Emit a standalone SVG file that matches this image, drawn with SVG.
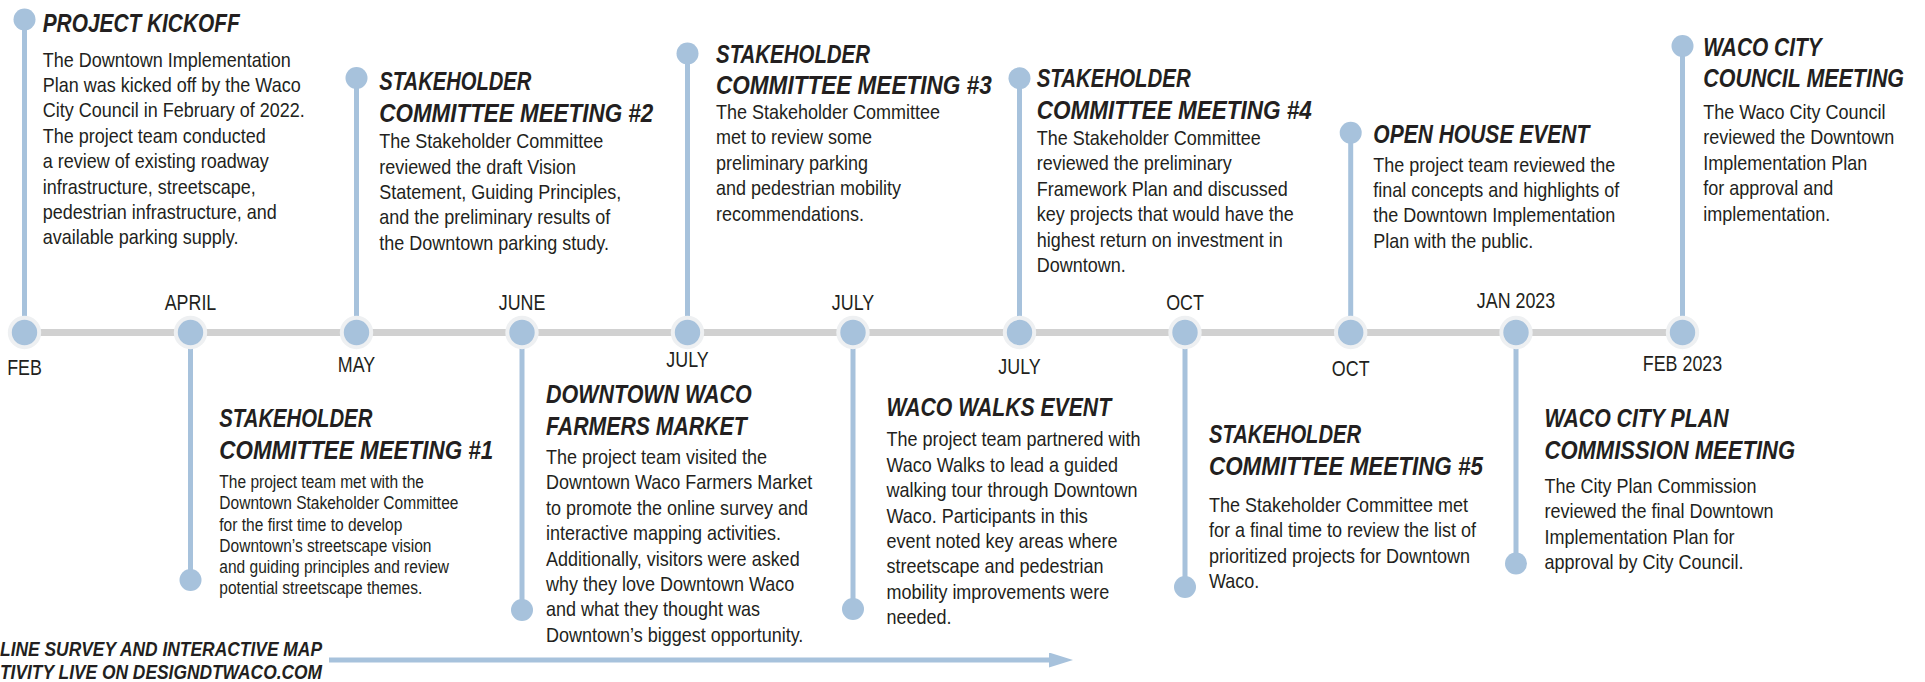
<svg xmlns="http://www.w3.org/2000/svg" width="1925" height="682" viewBox="0 0 1925 682">
  <defs>
    <style>
      .bar { stroke: #d1d1d1; stroke-width: 7; }
      .stem { stroke: #a7c2dc; stroke-width: 5; fill: none; }
      .dot { fill: #a7c2dc; }
      .tick { fill: #a7c2dc; stroke: #eef0f2; stroke-width: 4; }
      text { fill: #231f20; font-family: "Liberation Sans", Arial, Helvetica, sans-serif; }
      .title { font-size: 25.5px; font-weight: bold; font-style: italic; }
      .body { font-size: 20px; }
      .small { font-size: 18.5px; }
      .date { font-size: 21.5px; text-anchor: middle; }
      .note { font-size: 20px; font-weight: bold; font-style: italic; }
    </style>
    <marker id="arrowhead" viewBox="0 0 24 15" markerWidth="24" markerHeight="15" refX="2" refY="7.5" orient="auto" markerUnits="userSpaceOnUse">
      <path d="M0,0 L24,7.5 L0,15 Z" fill="#a7c2dc"/>
    </marker>
  </defs>

  <rect width="1925" height="682" fill="#ffffff"/>

  <!-- connectors: timeline bar, event stems, survey arrow -->
  <g id="connectors">
    <line class="bar" x1="24.5" y1="332.5" x2="1682" y2="332.5"/>
    <line class="stem" x1="24.5" y1="19.5" x2="24.5" y2="332.5"/>
    <line class="stem" x1="190.5" y1="332.5" x2="190.5" y2="580"/>
    <line class="stem" x1="356.5" y1="78" x2="356.5" y2="332.5"/>
    <line class="stem" x1="522" y1="332.5" x2="522" y2="610"/>
    <line class="stem" x1="687.5" y1="53.5" x2="687.5" y2="332.5"/>
    <line class="stem" x1="853" y1="332.5" x2="853" y2="609"/>
    <line class="stem" x1="1019.5" y1="78.3" x2="1019.5" y2="332.5"/>
    <line class="stem" x1="1185" y1="332.5" x2="1185" y2="587"/>
    <line class="stem" x1="1350.7" y1="132.7" x2="1350.7" y2="332.5"/>
    <line class="stem" x1="1516" y1="332.5" x2="1516" y2="563.5"/>
    <line class="stem" x1="1682.5" y1="46" x2="1682.5" y2="332.5"/>
    <line class="stem" x1="329" y1="660" x2="1051" y2="660" marker-end="url(#arrowhead)"/>
  </g>

  <!-- timeline markers with month labels -->
  <g id="timeline">
    <circle class="tick" cx="24.5" cy="332.5" r="14.7"/>
    <circle class="tick" cx="190.5" cy="332.5" r="14.7"/>
    <circle class="tick" cx="356.5" cy="332.5" r="14.7"/>
    <circle class="tick" cx="522" cy="332.5" r="14.7"/>
    <circle class="tick" cx="687.5" cy="332.5" r="14.7"/>
    <circle class="tick" cx="853" cy="332.5" r="14.7"/>
    <circle class="tick" cx="1019.5" cy="332.5" r="14.7"/>
    <circle class="tick" cx="1185" cy="332.5" r="14.7"/>
    <circle class="tick" cx="1350.7" cy="332.5" r="14.7"/>
    <circle class="tick" cx="1516" cy="332.5" r="14.7"/>
    <circle class="tick" cx="1682.5" cy="332.5" r="14.7"/>
    <text class="date" transform="matrix(0.83 0 0 1 24.5 375)">FEB</text>
    <text class="date" transform="matrix(0.83 0 0 1 190.5 309.5)">APRIL</text>
    <text class="date" transform="matrix(0.83 0 0 1 356.5 372)">MAY</text>
    <text class="date" transform="matrix(0.83 0 0 1 522 309.5)">JUNE</text>
    <text class="date" transform="matrix(0.83 0 0 1 687.5 367)">JULY</text>
    <text class="date" transform="matrix(0.83 0 0 1 853 309.5)">JULY</text>
    <text class="date" transform="matrix(0.83 0 0 1 1019.5 373.5)">JULY</text>
    <text class="date" transform="matrix(0.83 0 0 1 1185 309.5)">OCT</text>
    <text class="date" transform="matrix(0.83 0 0 1 1350.7 376)">OCT</text>
    <text class="date" transform="matrix(0.83 0 0 1 1516 307.5)">JAN 2023</text>
    <text class="date" transform="matrix(0.83 0 0 1 1682.5 371)">FEB 2023</text>
  </g>

  <g id="project-kickoff">
    <circle class="dot" cx="24.5" cy="19.5" r="11"/>
    <text class="title" transform="matrix(0.82 0 0 1 42.7 31.7)" textLength="240.2" lengthAdjust="spacingAndGlyphs">PROJECT KICKOFF</text>
    <text class="body" transform="matrix(0.9 0 0 1 42.7 0)">
      <tspan x="0" y="66.7">The Downtown Implementation</tspan>
      <tspan x="0" y="92.1">Plan was kicked off by the Waco</tspan>
      <tspan x="0" y="117.5">City Council in February of 2022.</tspan>
      <tspan x="0" y="142.9">The project team conducted</tspan>
      <tspan x="0" y="168.3">a review of existing roadway</tspan>
      <tspan x="0" y="193.7">infrastructure, streetscape,</tspan>
      <tspan x="0" y="219.1">pedestrian infrastructure, and</tspan>
      <tspan x="0" y="244.5">available parking supply.</tspan>
    </text>
  </g>

  <g id="stakeholder-meeting-1">
    <circle class="dot" cx="190.5" cy="580" r="11"/>
    <text class="title" transform="matrix(0.82 0 0 1 219.3 427.3)" textLength="186.6" lengthAdjust="spacingAndGlyphs">STAKEHOLDER</text>
    <text class="title" transform="matrix(0.82 0 0 1 219.3 459)" textLength="334.1" lengthAdjust="spacingAndGlyphs">COMMITTEE MEETING #1</text>
    <text class="small" transform="matrix(0.84 0 0 1 219.3 0)">
      <tspan x="0" y="488.3">The project team met with the</tspan>
      <tspan x="0" y="509.5">Downtown Stakeholder Committee</tspan>
      <tspan x="0" y="530.7">for the first time to develop</tspan>
      <tspan x="0" y="551.9">Downtown’s streetscape vision</tspan>
      <tspan x="0" y="573.1">and guiding principles and review</tspan>
      <tspan x="0" y="594.3">potential streetscape themes.</tspan>
    </text>
  </g>

  <g id="stakeholder-meeting-2">
    <circle class="dot" cx="356.5" cy="78" r="11"/>
    <text class="title" transform="matrix(0.82 0 0 1 379.3 90)" textLength="185.4" lengthAdjust="spacingAndGlyphs">STAKEHOLDER</text>
    <text class="title" transform="matrix(0.82 0 0 1 379.3 121.7)" textLength="334.1" lengthAdjust="spacingAndGlyphs">COMMITTEE MEETING #2</text>
    <text class="body" transform="matrix(0.9 0 0 1 379.3 0)">
      <tspan x="0" y="148.3">The Stakeholder Committee</tspan>
      <tspan x="0" y="173.7">reviewed the draft Vision</tspan>
      <tspan x="0" y="199.1">Statement, Guiding Principles,</tspan>
      <tspan x="0" y="224.5">and the preliminary results of</tspan>
      <tspan x="0" y="249.9">the Downtown parking study.</tspan>
    </text>
  </g>

  <g id="farmers-market">
    <circle class="dot" cx="522" cy="610" r="11"/>
    <text class="title" transform="matrix(0.82 0 0 1 546 403.3)" textLength="250.9" lengthAdjust="spacingAndGlyphs">DOWNTOWN WACO</text>
    <text class="title" transform="matrix(0.82 0 0 1 546 435)" textLength="244.8" lengthAdjust="spacingAndGlyphs">FARMERS MARKET</text>
    <text class="body" transform="matrix(0.9 0 0 1 546 0)">
      <tspan x="0" y="464">The project team visited the</tspan>
      <tspan x="0" y="489.4">Downtown Waco Farmers Market</tspan>
      <tspan x="0" y="514.8">to promote the online survey and</tspan>
      <tspan x="0" y="540.2">interactive mapping activities.</tspan>
      <tspan x="0" y="565.6">Additionally, visitors were asked</tspan>
      <tspan x="0" y="591">why they love Downtown Waco</tspan>
      <tspan x="0" y="616.4">and what they thought was</tspan>
      <tspan x="0" y="641.8">Downtown’s biggest opportunity.</tspan>
    </text>
  </g>

  <g id="stakeholder-meeting-3">
    <circle class="dot" cx="687.5" cy="53.5" r="11"/>
    <text class="title" transform="matrix(0.82 0 0 1 716 62.7)" textLength="187.8" lengthAdjust="spacingAndGlyphs">STAKEHOLDER</text>
    <text class="title" transform="matrix(0.82 0 0 1 716 94)" textLength="336.2" lengthAdjust="spacingAndGlyphs">COMMITTEE MEETING #3</text>
    <text class="body" transform="matrix(0.9 0 0 1 716 0)">
      <tspan x="0" y="119">The Stakeholder Committee</tspan>
      <tspan x="0" y="144.4">met to review some</tspan>
      <tspan x="0" y="169.8">preliminary parking</tspan>
      <tspan x="0" y="195.2">and pedestrian mobility</tspan>
      <tspan x="0" y="220.6">recommendations.</tspan>
    </text>
  </g>

  <g id="waco-walks">
    <circle class="dot" cx="853" cy="609" r="11"/>
    <text class="title" transform="matrix(0.82 0 0 1 886.4 415.5)" textLength="274" lengthAdjust="spacingAndGlyphs">WACO WALKS EVENT</text>
    <text class="body" transform="matrix(0.9 0 0 1 886.4 0)">
      <tspan x="0" y="446.5">The project team partnered with</tspan>
      <tspan x="0" y="471.9">Waco Walks to lead a guided</tspan>
      <tspan x="0" y="497.3">walking tour through Downtown</tspan>
      <tspan x="0" y="522.7">Waco. Participants in this</tspan>
      <tspan x="0" y="548.1">event noted key areas where</tspan>
      <tspan x="0" y="573.5">streetscape and pedestrian</tspan>
      <tspan x="0" y="598.9">mobility improvements were</tspan>
      <tspan x="0" y="624.3">needed.</tspan>
    </text>
  </g>

  <g id="stakeholder-meeting-4">
    <circle class="dot" cx="1019.5" cy="78.3" r="11"/>
    <text class="title" transform="matrix(0.82 0 0 1 1036.7 87.3)" textLength="187.8" lengthAdjust="spacingAndGlyphs">STAKEHOLDER</text>
    <text class="title" transform="matrix(0.82 0 0 1 1036.7 119)" textLength="335.4" lengthAdjust="spacingAndGlyphs">COMMITTEE MEETING #4</text>
    <text class="body" transform="matrix(0.9 0 0 1 1036.7 0)">
      <tspan x="0" y="145">The Stakeholder Committee</tspan>
      <tspan x="0" y="170.4">reviewed the preliminary</tspan>
      <tspan x="0" y="195.8">Framework Plan and discussed</tspan>
      <tspan x="0" y="221.2">key projects that would have the</tspan>
      <tspan x="0" y="246.6">highest return on investment in</tspan>
      <tspan x="0" y="272">Downtown.</tspan>
    </text>
  </g>

  <g id="stakeholder-meeting-5">
    <circle class="dot" cx="1185" cy="587" r="11"/>
    <text class="title" transform="matrix(0.82 0 0 1 1209 443)" textLength="185.4" lengthAdjust="spacingAndGlyphs">STAKEHOLDER</text>
    <text class="title" transform="matrix(0.82 0 0 1 1209 475)" textLength="334.1" lengthAdjust="spacingAndGlyphs">COMMITTEE MEETING #5</text>
    <text class="body" transform="matrix(0.9 0 0 1 1209 0)">
      <tspan x="0" y="512">The Stakeholder Committee met</tspan>
      <tspan x="0" y="537.4">for a final time to review the list of</tspan>
      <tspan x="0" y="562.8">prioritized projects for Downtown</tspan>
      <tspan x="0" y="588.2">Waco.</tspan>
    </text>
  </g>

  <g id="open-house">
    <circle class="dot" cx="1350.7" cy="132.7" r="11"/>
    <text class="title" transform="matrix(0.82 0 0 1 1373.3 143.3)" textLength="263.4" lengthAdjust="spacingAndGlyphs">OPEN HOUSE EVENT</text>
    <text class="body" transform="matrix(0.9 0 0 1 1373.3 0)">
      <tspan x="0" y="171.7">The project team reviewed the</tspan>
      <tspan x="0" y="197.1">final concepts and highlights of</tspan>
      <tspan x="0" y="222.5">the Downtown Implementation</tspan>
      <tspan x="0" y="247.9">Plan with the public.</tspan>
    </text>
  </g>

  <g id="plan-commission">
    <circle class="dot" cx="1516" cy="563.5" r="11"/>
    <text class="title" transform="matrix(0.82 0 0 1 1544.5 427)" textLength="224.4" lengthAdjust="spacingAndGlyphs">WACO CITY PLAN</text>
    <text class="title" transform="matrix(0.82 0 0 1 1544.5 459)" textLength="305.5" lengthAdjust="spacingAndGlyphs">COMMISSION MEETING</text>
    <text class="body" transform="matrix(0.9 0 0 1 1544.5 0)">
      <tspan x="0" y="493">The City Plan Commission</tspan>
      <tspan x="0" y="518.4">reviewed the final Downtown</tspan>
      <tspan x="0" y="543.8">Implementation Plan for</tspan>
      <tspan x="0" y="569.2">approval by City Council.</tspan>
    </text>
  </g>

  <g id="city-council">
    <circle class="dot" cx="1682.5" cy="46" r="11"/>
    <text class="title" transform="matrix(0.82 0 0 1 1703.3 56)" textLength="144.3" lengthAdjust="spacingAndGlyphs">WACO CITY</text>
    <text class="title" transform="matrix(0.82 0 0 1 1703.3 86.7)" textLength="244.8" lengthAdjust="spacingAndGlyphs">COUNCIL MEETING</text>
    <text class="body" transform="matrix(0.9 0 0 1 1703.3 0)">
      <tspan x="0" y="119">The Waco City Council</tspan>
      <tspan x="0" y="144.4">reviewed the Downtown</tspan>
      <tspan x="0" y="169.8">Implementation Plan</tspan>
      <tspan x="0" y="195.2">for approval and</tspan>
      <tspan x="0" y="220.6">implementation.</tspan>
    </text>
  </g>

  <g id="survey-note">
    <text class="note" x="0" y="656" textLength="322" lengthAdjust="spacingAndGlyphs">LINE SURVEY AND INTERACTIVE MAP</text>
    <text class="note" x="0" y="679" textLength="322" lengthAdjust="spacingAndGlyphs">TIVITY LIVE ON DESIGNDTWACO.COM</text>
  </g>
</svg>
